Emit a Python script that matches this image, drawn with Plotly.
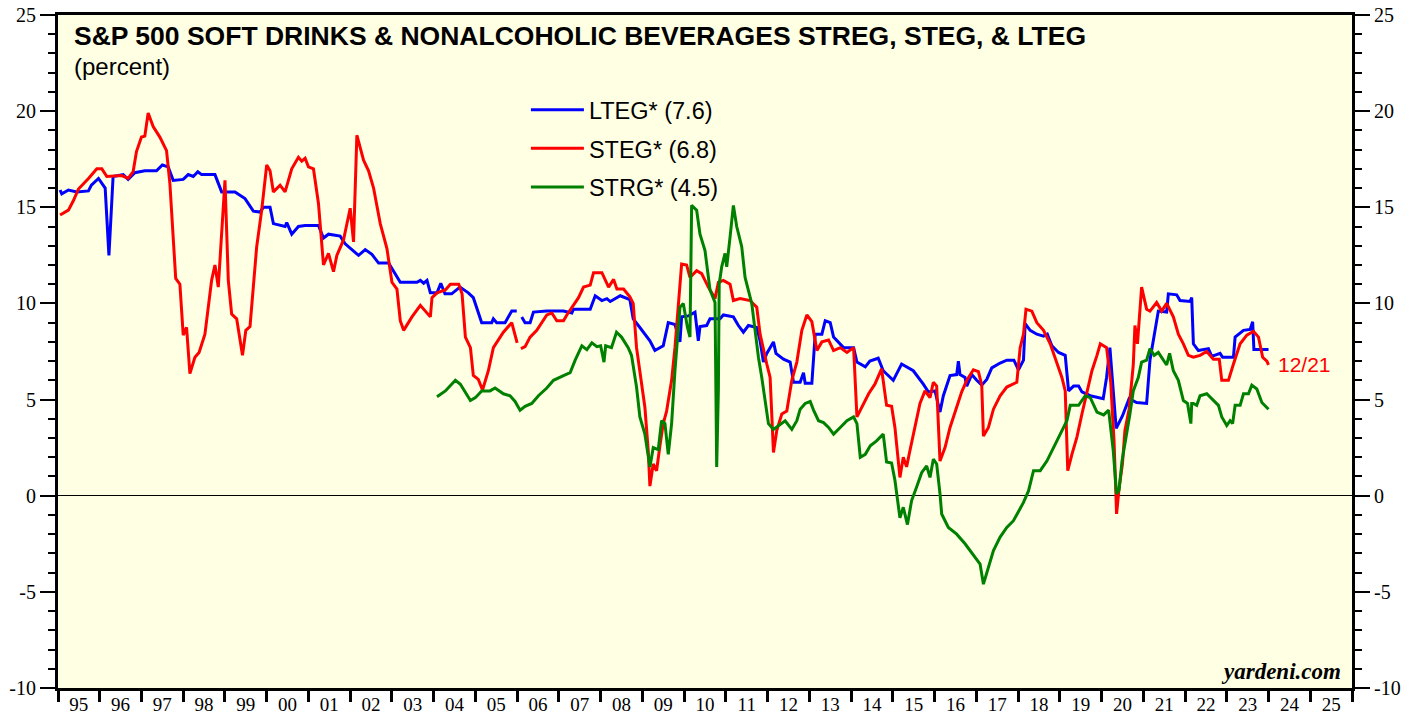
import plotly.graph_objects as go

# ---------------- data (decimal years, percent) ----------------
lteg_t = [1995.05, 1995.09, 1995.25, 1995.45, 1995.73, 1995.8, 1995.97, 1996.13, 1996.22, 1996.32,
          1996.56, 1996.68, 1996.84, 1997.08, 1997.36, 1997.5, 1997.64, 1997.76, 1998.0, 1998.12,
          1998.24, 1998.35, 1998.44, 1998.76, 1998.92, 1999.24, 1999.48, 1999.68, 1999.84, 1999.92,
          2000.08, 2000.16, 2000.44, 2000.48, 2000.6, 2000.76, 2000.92, 2001.24, 2001.36, 2001.48,
          2001.76, 2001.88, 2002.2, 2002.36, 2002.52, 2002.68, 2002.92, 2003.08, 2003.2, 2003.6,
          2003.68, 2003.76, 2003.84, 2003.92, 2004.08, 2004.17, 2004.27, 2004.43, 2004.63, 2004.83,
          2004.95, 2005.15, 2005.39, 2005.43, 2005.51, 2005.71, 2005.87, 2005.99, 2006.05, 2006.11,
          2006.19, 2006.31, 2006.39, 2006.71, 2007.11, 2007.31, 2007.35, 2007.75, 2007.87, 2008.03,
          2008.15, 2008.23, 2008.47, 2008.7, 2008.78, 2008.94, 2009.18, 2009.3, 2009.5, 2009.62,
          2009.78, 2009.9, 2009.94, 2010.1, 2010.26, 2010.34, 2010.38, 2010.54, 2010.62, 2010.86,
          2010.94, 2011.18, 2011.3, 2011.42, 2011.54, 2011.74, 2011.82, 2011.9, 2011.98, 2012.14,
          2012.2, 2012.38, 2012.54, 2012.62, 2012.78, 2012.86, 2012.9, 2013.06, 2013.14, 2013.3,
          2013.38, 2013.5, 2013.58, 2013.82, 2014.06, 2014.14, 2014.34, 2014.45, 2014.65, 2014.77,
          2015.01, 2015.21, 2015.49, 2015.73, 2015.85, 2016.01, 2016.13, 2016.21, 2016.37, 2016.53,
          2016.57, 2016.61, 2016.73, 2016.77, 2016.89, 2017.01, 2017.13, 2017.25, 2017.37, 2017.57,
          2017.73, 2017.9, 2018.01, 2018.13, 2018.17, 2018.29, 2018.45, 2018.61, 2018.7, 2018.81,
          2018.97, 2019.13, 2019.21, 2019.33, 2019.45, 2019.53, 2019.73, 2020.04, 2020.12, 2020.2,
          2020.28, 2020.35, 2020.5, 2020.66, 2020.84, 2021.08, 2021.16, 2021.28, 2021.36, 2021.56,
          2021.6, 2021.8, 2021.88, 2022.12, 2022.16, 2022.2, 2022.32, 2022.56, 2022.64, 2022.84,
          2022.9, 2023.16, 2023.2, 2023.4, 2023.56, 2023.62, 2023.65, 2024.0]
lteg_v = [15.9, 15.7, 15.9, 15.8, 15.85, 16.15, 16.5, 16.0, 12.5, 16.6,
          16.7, 16.45, 16.8, 16.9, 16.9, 17.2, 17.1, 16.4, 16.45, 16.7,
          16.6, 16.85, 16.7, 16.7, 15.8, 15.8, 15.45, 14.8, 14.75, 15.0,
          15.0, 14.15, 14.0, 14.2, 13.6, 14.0, 14.05, 14.05, 13.4, 13.6,
          13.5, 13.1, 12.5, 12.8, 12.55, 12.1, 12.1, 11.55, 11.1, 11.1,
          11.2, 11.05, 11.2, 10.55, 10.55, 11.05, 10.5, 10.5, 10.85, 10.55,
          10.3, 9.0, 9.0, 9.2, 9.0, 9.0, 9.6, 9.6, None, 9.3,
          9.0, 9.0, 9.55, 9.6, 9.6, 9.5, 9.7, 9.7, 10.4, 10.15,
          10.25, 10.1, 10.4, 10.2, 9.2, 8.75, 8.05, 7.55, 7.8, 9.0,
          8.9, 8.0, 9.3, 9.35, 9.55, 8.05, 8.8, 8.85, 9.2, 9.2,
          9.4, 9.3, 8.85, 8.5, 8.85, 8.75, 8.05, 6.95, 7.4, 8.0,
          7.4, 7.1, 6.95, 5.9, 5.9, 6.4, 5.85, 5.85, 8.4, 8.4,
          9.1, 9.0, 8.25, 7.7, 7.7, 6.95, 6.7, 7.0, 7.15, 6.5,
          6.0, 6.85, 6.5, 5.8, 5.4, 5.45, 4.35, 5.2, 6.25, 6.3,
          7.0, 6.3, 6.15, 5.7, 6.3, 6.0, 5.75, 6.05, 6.65, 6.9,
          7.05, 7.05, 6.55, 7.05, 8.95, 8.6, 8.4, 8.3, 8.4, 7.8,
          7.45, 7.3, 5.45, 5.7, 5.7, 5.4, 5.2, 5.05, 6.15, 7.7,
          5.4, 3.5, 4.15, 5.05, 4.85, 4.8, 7.05, 8.6, 9.6, 9.55,
          10.5, 10.45, 10.15, 10.1, 10.3, 7.9, 7.55, 7.65, 7.25, 7.4,
          7.2, 7.2, 8.25, 8.6, 8.65, 9.05, 7.6, 7.6]

steg_t = [1995.05, 1995.25, 1995.37, 1995.49, 1995.73, 1995.93, 1996.05, 1996.17, 1996.53, 1996.68,
          1996.8, 1996.88, 1997.0, 1997.08, 1997.16, 1997.28, 1997.44, 1997.6, 1997.68, 1997.82,
          1997.92, 1998.0, 1998.08, 1998.16, 1998.28, 1998.38, 1998.52, 1998.68, 1998.76, 1998.84,
          1999.0, 1999.08, 1999.16, 1999.28, 1999.42, 1999.5, 1999.6, 1999.76, 1999.88, 2000.0,
          2000.08, 2000.16, 2000.32, 2000.44, 2000.6, 2000.76, 2000.84, 2000.92, 2001.0, 2001.12,
          2001.24, 2001.36, 2001.48, 2001.6, 2001.68, 2001.84, 2002.0, 2002.08, 2002.16, 2002.32,
          2002.44, 2002.56, 2002.72, 2002.88, 2003.0, 2003.12, 2003.2, 2003.28, 2003.48, 2003.68,
          2003.92, 2003.96, 2004.08, 2004.28, 2004.4, 2004.6, 2004.68, 2004.76, 2004.88, 2004.95,
          2005.07, 2005.17, 2005.31, 2005.43, 2005.67, 2005.87, 2006.0, 2006.05, 2006.09, 2006.19,
          2006.31, 2006.47, 2006.71, 2006.83, 2006.95, 2007.11, 2007.19, 2007.35, 2007.47, 2007.59,
          2007.75, 2007.83, 2008.03, 2008.19, 2008.31, 2008.39, 2008.55, 2008.7, 2008.78, 2008.86,
          2008.98, 2009.06, 2009.14, 2009.18, 2009.26, 2009.34, 2009.42, 2009.5, 2009.58, 2009.7,
          2009.78, 2009.86, 2009.94, 2010.06, 2010.14, 2010.3, 2010.42, 2010.58, 2010.74, 2010.82,
          2010.94, 2011.1, 2011.18, 2011.34, 2011.58, 2011.74, 2011.82, 2011.98, 2012.06, 2012.14,
          2012.22, 2012.34, 2012.46, 2012.58, 2012.7, 2012.82, 2012.94, 2013.06, 2013.18, 2013.3,
          2013.46, 2013.58, 2013.74, 2013.9, 2014.06, 2014.14, 2014.26, 2014.42, 2014.57, 2014.73,
          2014.85, 2014.97, 2015.05, 2015.17, 2015.25, 2015.33, 2015.41, 2015.53, 2015.65, 2015.77,
          2015.89, 2015.97, 2016.05, 2016.13, 2016.25, 2016.37, 2016.53, 2016.65, 2016.77, 2016.93,
          2017.05, 2017.13, 2017.17, 2017.29, 2017.41, 2017.57, 2017.73, 2017.97, 2018.05, 2018.13,
          2018.19, 2018.33, 2018.45, 2018.61, 2018.77, 2018.93, 2019.05, 2019.13, 2019.19, 2019.29,
          2019.41, 2019.53, 2019.65, 2019.77, 2019.89, 2019.97, 2020.12, 2020.22, 2020.3, 2020.36,
          2020.42, 2020.5, 2020.56, 2020.66, 2020.76, 2020.8, 2020.86, 2020.9, 2020.96, 2021.08,
          2021.16, 2021.32, 2021.44, 2021.56, 2021.72, 2021.84, 2021.96, 2022.08, 2022.2, 2022.36,
          2022.52, 2022.68, 2022.82, 2022.88, 2023.04, 2023.16, 2023.32, 2023.48, 2023.64, 2023.76,
          2023.86, 2023.96, 2024.0]
steg_v = [14.6, 14.85, 15.35, 15.95, 16.5, 17.0, 17.0, 16.6, 16.65, 16.5,
          16.85, 17.9, 18.65, 18.7, 19.9, 19.2, 18.65, 17.95, 16.25, 11.3,
          11.0, 8.35, 8.75, 6.35, 7.2, 7.45, 8.4, 11.2, 12.0, 10.85,
          16.4, 11.2, 9.45, 9.2, 7.3, 8.6, 8.8, 12.95, 14.85, 17.2,
          16.9, 15.8, 16.15, 15.8, 17.0, 17.6, 17.4, 17.55, 17.1, 17.0,
          15.2, 12.0, 12.6, 11.65, 12.5, 13.3, 14.95, 13.2, 18.75, 17.45,
          16.9, 16.0, 14.15, 12.85, 11.1, 10.75, 9.1, 8.6, 9.3, 9.9,
          9.3, 10.3, 10.55, 10.7, 11.0, 11.0, 10.5, 8.25, 7.7, 6.25,
          6.05, 5.5, 6.5, 7.7, 8.5, 9.0, 7.95, None, 7.65, 7.75,
          8.25, 8.6, 9.4, 9.5, 9.1, 9.1, 9.4, 9.9, 10.3, 10.85,
          10.95, 11.6, 11.6, 10.85, 11.25, 10.75, 10.75, 10.35, 10.0, 7.7,
          5.9, 4.6, 2.35, 0.5, 1.65, 1.3, 2.6, 3.75, 4.4, 6.0,
          7.7, 9.9, 12.05, 12.0, 11.35, 11.7, 11.55, 10.85, 10.25, 11.1,
          11.2, 11.0, 10.15, 10.25, 10.15, 9.8, 8.4, 6.85, 6.15, 2.25,
          3.4, 4.25, 4.4, 6.0, 6.95, 8.6, 9.4, 9.05, 7.55, 8.0,
          8.1, 7.55, 7.7, 7.45, 7.7, 4.1, 4.6, 5.3, 5.8, 6.6,
          4.7, 4.65, 3.55, 0.95, 2.0, 1.5, 2.35, 3.55, 4.8, 5.45,
          5.1, 5.9, 5.7, 1.8, 2.5, 3.55, 4.6, 5.4, 6.0, 6.55,
          6.45, 5.75, 3.1, 3.55, 4.5, 5.2, 5.65, 5.9, 7.7, 8.4,
          9.7, 9.6, 9.0, 8.6, 7.9, 6.85, 6.15, 5.45, 1.3, 2.15,
          3.05, 4.25, 5.3, 6.5, 7.3, 7.9, 7.7, 5.9, 2.8, -0.95,
          0.4, 1.65, 3.4, 4.5, 6.8, 8.85, 7.9, 9.1, 10.85, 9.7,
          9.6, 10.05, 9.6, 10.0, 9.3, 8.4, 7.9, 7.3, 7.2, 7.3,
          7.5, 7.1, 7.1, 6.0, 6.0, 6.85, 7.9, 8.35, 8.55, 8.25,
          7.2, 7.0, 6.8]

strg_t = [2004.08, 2004.28, 2004.52, 2004.64, 2004.88, 2005.0, 2005.15, 2005.35, 2005.47, 2005.67,
          2005.83, 2005.95, 2006.07, 2006.19, 2006.35, 2006.51, 2006.71, 2006.87, 2007.11, 2007.27,
          2007.39, 2007.55, 2007.67, 2007.79, 2007.91, 2008.0, 2008.08, 2008.12, 2008.26, 2008.38,
          2008.5, 2008.66, 2008.74, 2008.86, 2008.94, 2009.06, 2009.18, 2009.26, 2009.38, 2009.46,
          2009.54, 2009.62, 2009.7, 2009.78, 2009.9, 2009.98, 2010.08, 2010.14, 2010.18, 2010.3,
          2010.38, 2010.5, 2010.62, 2010.74, 2010.78, 2010.82, 2010.84, 2010.9, 2010.98, 2011.02,
          2011.1, 2011.18, 2011.26, 2011.38, 2011.46, 2011.54, 2011.62, 2011.7, 2011.78, 2011.86,
          2011.94, 2012.02, 2012.14, 2012.3, 2012.42, 2012.58, 2012.7, 2012.78, 2012.9, 2013.02,
          2013.1, 2013.22, 2013.34, 2013.46, 2013.58, 2013.74, 2013.9, 2014.06, 2014.14, 2014.22,
          2014.34, 2014.46, 2014.61, 2014.77, 2014.85, 2014.97, 2015.05, 2015.17, 2015.25, 2015.35,
          2015.45, 2015.57, 2015.69, 2015.81, 2015.89, 2015.97, 2016.05, 2016.13, 2016.17, 2016.33,
          2016.53, 2016.73, 2016.93, 2017.09, 2017.17, 2017.29, 2017.41, 2017.57, 2017.73, 2017.89,
          2018.01, 2018.13, 2018.25, 2018.37, 2018.53, 2018.69, 2018.85, 2019.01, 2019.17, 2019.25,
          2019.45, 2019.61, 2019.73, 2019.89, 2020.05, 2020.17, 2020.28, 2020.36, 2020.42, 2020.49,
          2020.59, 2020.68, 2020.76, 2020.88, 2020.96, 2021.08, 2021.16, 2021.26, 2021.36, 2021.48,
          2021.56, 2021.63, 2021.72, 2021.84, 2021.96, 2022.06, 2022.14, 2022.16, 2022.2, 2022.28,
          2022.36, 2022.52, 2022.62, 2022.8, 2022.88, 2023.0, 2023.08, 2023.14, 2023.2, 2023.32,
          2023.4, 2023.52, 2023.6, 2023.72, 2023.84, 2024.0]
strg_v = [5.15, 5.45, 6.0, 5.8, 4.95, 5.1, 5.45, 5.45, 5.6, 5.3,
          5.2, 4.9, 4.45, 4.65, 4.8, 5.2, 5.6, 6.0, 6.25, 6.4,
          7.05, 7.8, 7.6, 7.95, 7.75, 7.8, 6.95, 7.8, 7.7, 8.5,
          8.25, 7.7, 7.3, 5.65, 4.1, 3.2, 1.5, 2.5, 2.4, 3.9,
          3.75, 2.15, 3.75, 6.5, 9.8, 10.0, 8.75, 8.25, 15.1, 14.85,
          13.6, 12.75, 10.7, 10.05, 1.5, 5.45, 11.0, 11.9, 12.6, 11.9,
          13.45, 15.1, 14.0, 12.95, 11.35, 10.7, 10.0, 8.6, 7.2, 6.15,
          4.8, 3.75, 3.45, 3.7, 3.9, 3.45, 3.9, 4.5, 4.8, 4.9,
          4.45, 3.9, 3.8, 3.55, 3.2, 3.55, 3.9, 4.1, 3.75, 2.0,
          2.15, 2.6, 2.85, 3.2, 1.75, 1.7, 0.8, -1.15, -0.6, -1.5,
          -0.25, 0.45, 1.2, 1.55, 0.95, 1.9, 1.65, 0.1, -0.95, -1.65,
          -2.0, -2.5, -3.05, -3.55, -4.6, -3.75, -2.85, -2.15, -1.65, -1.3,
          -0.8, -0.35, 0.25, 1.3, 1.3, 1.8, 2.5, 3.2, 3.9, 4.7,
          4.7, 5.2, 5.1, 4.35, 4.2, 4.45, 2.35, 0.1, 0.3, 1.8,
          3.05, 4.25, 5.45, 6.15, 6.95, 7.05, 7.65, 7.3, 7.45, 7.05,
          6.8, 7.4, 6.5, 6.0, 4.95, 4.8, 3.75, 4.8, 4.8, 4.7,
          5.2, 5.3, 5.1, 4.7, 4.1, 3.65, 3.9, 3.75, 4.7, 4.7,
          5.3, 5.3, 5.75, 5.55, 4.85, 4.5]

years = list(range(1995, 2027))
year_labels = [f"{y % 100:02d}" for y in range(1995, 2026)]
y_ticks = [-10, -5, 0, 5, 10, 15, 20, 25]
y_tick_labels = [str(v) for v in y_ticks]

# ---------------- figure ----------------
SERIF = "Liberation Serif, Times New Roman, serif"
SANS = "Liberation Sans, Arial, sans-serif"

fig = go.Figure()
fig.add_trace(go.Scatter(x=lteg_t, y=lteg_v, mode="lines", name=f"LTEG* ({lteg_v[-1]:.1f})",
                         line=dict(color="#0000FF", width=3), legendgroup="g1"))
fig.add_trace(go.Scatter(x=steg_t, y=steg_v, mode="lines", name=f"STEG* ({steg_v[-1]:.1f})",
                         line=dict(color="#FF0000", width=3), legendgroup="g2"))
fig.add_trace(go.Scatter(x=strg_t, y=strg_v, mode="lines", name=f"STRG* ({strg_v[-1]:.1f})",
                         line=dict(color="#008000", width=3), legendgroup="g3", yaxis="y2"))

yax_common = dict(
    range=[-10, 25], tickmode="array", tickvals=y_ticks, ticktext=y_tick_labels,
    ticks="outside", ticklen=15, tickwidth=2, tickcolor="black",
    minor=dict(dtick=1, tick0=0, ticks="outside", ticklen=7, tickwidth=2, tickcolor="black"),
    showline=True, linewidth=3, linecolor="black", showgrid=False, automargin=False,
    tickfont=dict(family=SERIF, size=20, color="black"), fixedrange=True,
)

fig.update_layout(
    width=1419, height=717,
    margin=dict(l=58, r=67, t=15, b=29, autoexpand=False),
    paper_bgcolor="white", plot_bgcolor="#FFFFE3",
    showlegend=True,
    legend=dict(x=0.3616, y=0.8915, xanchor="left", yanchor="top", bgcolor="rgba(0,0,0,0)",
                font=dict(family=SANS, size=23.5, color="black"), tracegroupgap=5,
                traceorder="grouped", itemwidth=53),
    xaxis=dict(
        range=[1995, 2026], tickvals=[y + 0.5 for y in range(1995, 2026)], ticktext=year_labels,
        ticks="outside", ticklen=1, tickcolor="rgba(0,0,0,0)", ticklabelstandoff=-4,
        minor=dict(tickvals=years, ticks="outside", ticklen=11, tickwidth=3, tickcolor="black"),
        showline=True, linewidth=3, linecolor="black", mirror=True, showgrid=False, zeroline=False,
        automargin=False, tickfont=dict(family=SERIF, size=19, color="black"), fixedrange=True,
    ),
    yaxis=dict(**yax_common, zeroline=True, zerolinecolor="black", zerolinewidth=1),
    yaxis2=dict(**yax_common, overlaying="y", side="right", zeroline=False),
    annotations=[
        dict(text="<b>S&P 500 SOFT DRINKS & NONALCOHOLIC BEVERAGES STREG, STEG, & LTEG</b>",
             xref="paper", yref="paper", x=0.0105, y=0.969, xanchor="left", yanchor="middle",
             showarrow=False, font=dict(family=SANS, size=26.5, color="black")),
        dict(text="(percent)", xref="paper", yref="paper", x=0.0105, y=0.924,
             xanchor="left", yanchor="middle", showarrow=False,
             font=dict(family=SANS, size=24, color="black")),
        dict(text="12/21", xref="x", yref="y", x=steg_t[-1] + 0.18, y=steg_v[-1],
             xanchor="left", yanchor="middle", showarrow=False,
             font=dict(family=SANS, size=21, color="#FF0000")),
        dict(text="<b><i>yardeni.com</i></b>", xref="paper", yref="paper", x=0.993, y=0.024,
             xanchor="right", yanchor="middle", showarrow=False,
             font=dict(family=SERIF, size=23, color="black")),
    ],
)

fig.write_html("out.html", config={"displayModeBar": False},
               post_script="document.body.style.margin='0';")
